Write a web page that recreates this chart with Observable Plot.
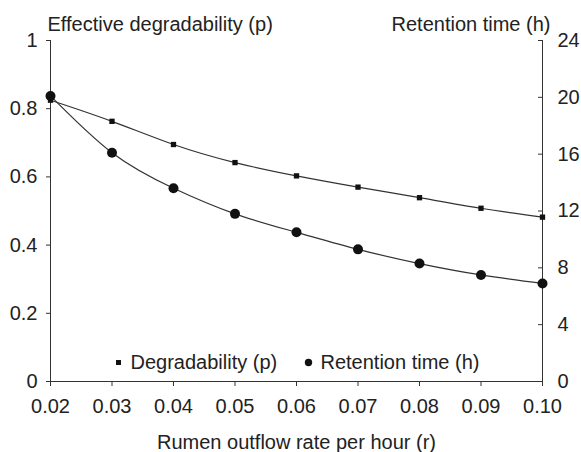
<!DOCTYPE html>
<html><head><meta charset="utf-8">
<script src="https://cdn.jsdelivr.net/npm/d3@7"></script>
<script src="https://cdn.jsdelivr.net/npm/@observablehq/plot@0.6"></script>
<style>body{margin:0;background:#fff} svg{font-family:"Liberation Sans",Arial,sans-serif}</style>
</head><body><div id="chart"></div>
<script>
const rate = [0.02, 0.03, 0.04, 0.05, 0.06, 0.07, 0.08, 0.09, 0.10];
const degradability = [0.825, 0.763, 0.695, 0.642, 0.603, 0.570, 0.539, 0.508, 0.482];
const retention = [20.1, 16.1, 13.6, 11.8, 10.5, 9.3, 8.3, 7.5, 6.9];
const leftTicks = [0, 0.2, 0.4, 0.6, 0.8, 1];
const rightTicks = [0, 4, 8, 12, 16, 20, 24];
const xTicks = [0.02, 0.03, 0.04, 0.05, 0.06, 0.07, 0.08, 0.09, 0.10];
const RMAX = 24;
const labels = {
  left: "Effective degradability (p)",
  right: "Retention time (h)",
  x: "Rumen outflow rate per hour (r)",
  legendP: "Degradability (p)",
  legendR: "Retention time (h)"
};

const dataP = rate.map((r, i) => ({r, v: degradability[i]}));
const dataR = rate.map((r, i) => ({r, v: retention[i] / RMAX}));

const ink = "#333";
const chart = Plot.plot({
  width: 581, height: 452,
  marginLeft: 50, marginRight: 39, marginTop: 40, marginBottom: 71,
  style: {fontSize: "20px", fontFamily: "'Liberation Sans', Arial, sans-serif", color: "#222", background: "#fff"},
  x: {domain: [0.02, 0.10]},
  y: {domain: [0, 1]},
  marks: [
    Plot.ruleY([0], {stroke: ink}),
    Plot.ruleX([0.02], {stroke: ink}),
    Plot.ruleX([0.10], {stroke: ink}),
    Plot.axisX({ticks: xTicks, tickFormat: d => d.toFixed(2), tickSize: 5, tickPadding: 12, stroke: ink, label: null}),
    Plot.axisY({ticks: leftTicks, tickFormat: d => String(d), tickSize: 4, tickPadding: 9, stroke: ink, label: null}),
    Plot.axisY(rightTicks.map(d => d / RMAX), {anchor: "right", tickFormat: d => String(Math.round(d * RMAX)), tickSize: -5, tickPadding: 20, stroke: ink, label: null}),
    Plot.line(dataP, {x: "r", y: "v", curve: "natural", stroke: ink, strokeWidth: 1.2}),
    Plot.line(dataR, {x: "r", y: "v", curve: "natural", stroke: ink, strokeWidth: 1.2}),
    Plot.dot(dataP, {x: "r", y: "v", symbol: "square", r: 3, fill: "#111", stroke: "none"}),
    Plot.dot(dataR, {x: "r", y: "v", symbol: "circle", r: 5, fill: "#111", stroke: "none"}),
    Plot.text([labels.left], {text: d => d, frameAnchor: "top-left", textAnchor: "start", lineAnchor: "bottom", dx: -3, dy: -10, fill: "#222"}),
    Plot.text([labels.right], {text: d => d, frameAnchor: "top-right", textAnchor: "end", lineAnchor: "bottom", dx: 8, dy: -10, fill: "#222"}),
    Plot.text([labels.x], {text: d => d, frameAnchor: "bottom", textAnchor: "middle", lineAnchor: "bottom", dx: 0, dy: 67, fill: "#222"}),
    Plot.dot([labels.legendP], {frameAnchor: "bottom-left", dx: 68, dy: -19, symbol: "square", r: 2.8, fill: "#111", stroke: "none"}),
    Plot.text([labels.legendP], {text: d => d, frameAnchor: "bottom-left", dx: 80, dy: -19, textAnchor: "start", lineAnchor: "middle", fill: "#222"}),
    Plot.dot([labels.legendR], {frameAnchor: "bottom-left", dx: 258, dy: -19, symbol: "circle", r: 3.7, fill: "#111", stroke: "none"}),
    Plot.text([labels.legendR], {text: d => d, frameAnchor: "bottom-left", dx: 270, dy: -19, textAnchor: "start", lineAnchor: "middle", fill: "#222"})
  ]
});
document.getElementById("chart").append(chart);
</script>
</body></html>
